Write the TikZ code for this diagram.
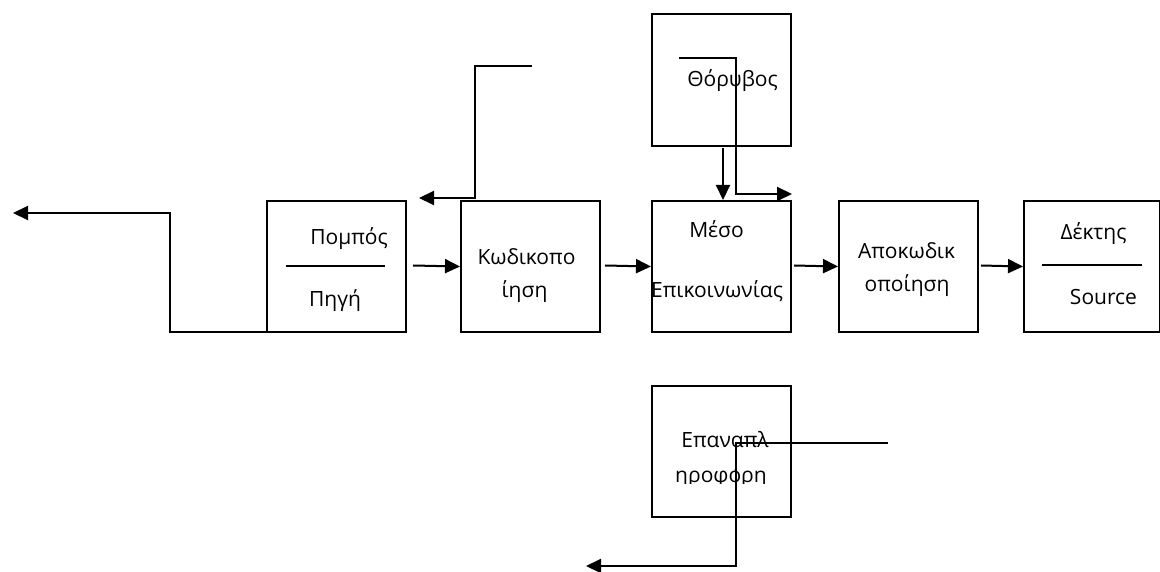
\documentclass[tikz,border=0pt]{standalone}
\usepackage{fontspec}
\setmainfont{Open Sans}
\usetikzlibrary{arrows.meta,calc}
\tikzset{
  box/.style={draw, line width=2pt, minimum width=139pt, minimum height=131pt, inner sep=0pt, anchor=north west},
  txt/.style={anchor=base, inner sep=0pt, font=\fontsize{21}{24}\selectfont},
  conn/.style={line width=2pt},
  arr/.style={line width=2pt, -{Triangle[length=15pt,width=14pt]}},
}
\begin{document}
\begin{tikzpicture}[x=1pt,y=-1pt]
\useasboundingbox (0,0) rectangle (1160,572);
% boxes
\node[box] (A) at (266,200) {};
\node[box] (B) at (460,200) {};
\node[box, minimum height=132pt] (N) at (651,13) {};
\node[box] (M) at (651,200) {};
\node[box] (D) at (838,200) {};
\node[box, minimum width=136pt] (R) at (1023,200) {};
\node[box] (F) at (651,385) {};
% texts
\node[txt] (tA1) at (349,245) {Πομπός};
\node[txt] (tA2) at (335,307) {Πηγή};
\node[txt] (tB1) at (526.5,265) {Κωδικοπο};
\node[txt] (tB2) at (524.5,298) {ίηση};
\node[txt] (tN) at (732.5,87) {Θόρυβος};
\node[txt] (tM1) at (716.5,238) {Μέσο};
\node[txt] (tM2) at (717,298) {Επικοινωνίας};
\node[txt] (tD1) at (906.5,259) {Αποκωδικ};
\node[txt] (tD2) at (907,292) {οποίηση};
\node[txt] (tR1) at (1093.5,240) {Δέκτης};
\node[txt] (tR2) at (1103.5,305) {Source};
\node[txt] (tF1) at (725,447) {Επαναπλ};
\begin{scope}
  \clip (655,469.5) rectangle (788,483.5);
  \node[txt] (tF2) at (721,482.5) {ηροφόρη};
\end{scope}
% dividers
\coordinate (dA1) at (286,266); \coordinate (dA2) at (385,266);
\draw[conn] (dA1) -- (dA2);
\coordinate (dR1) at (1042,265); \coordinate (dR2) at (1142,265);
\draw[conn] (dR1) -- (dR2);
% main flow arrows
\coordinate (a1) at (413,265.5);
\draw[arr] (a1) -- (B.west);
\coordinate (b1) at (605,265.5);
\draw[arr] (b1) -- (M.west);
\coordinate (m1) at (794,265.5);
\draw[arr] (m1) -- (D.west);
\coordinate (d1) at (981,265.5);
\draw[arr] (d1) -- (R.west);
% noise arrow
\coordinate (n1) at (723,148);
\draw[arr] (n1) -- (n1 |- M.north);
% noise inner line
\coordinate (p1) at (679,58); \coordinate (p2) at (736,58);
\coordinate (p3) at (736,194); \coordinate (p4) at (792,194);
\draw[arr] (p1) -- (p2) -- (p3) -- (p4);
% top line from encoder
\coordinate (q1) at (532,66); \coordinate (q2) at (475,66);
\coordinate (q3) at (475,198); \coordinate (q4) at (419,198);
\draw[arr] (q1) -- (q2) -- (q3) -- (q4);
% feedback from source
\coordinate (r1) at (327,332); \coordinate (r2) at (170,332);
\coordinate (r3) at (170,213); \coordinate (r4) at (13,213);
\draw[arr] (r1) -- (r2) -- (r3) -- (r4);
% feedback bottom
\coordinate (s1) at (888,443); \coordinate (s2) at (736,443);
\coordinate (s3) at (736,566); \coordinate (s4) at (586,566);
\draw[arr] (s1) -- (s2) -- (s3) -- (s4);
\end{tikzpicture}
\end{document}
